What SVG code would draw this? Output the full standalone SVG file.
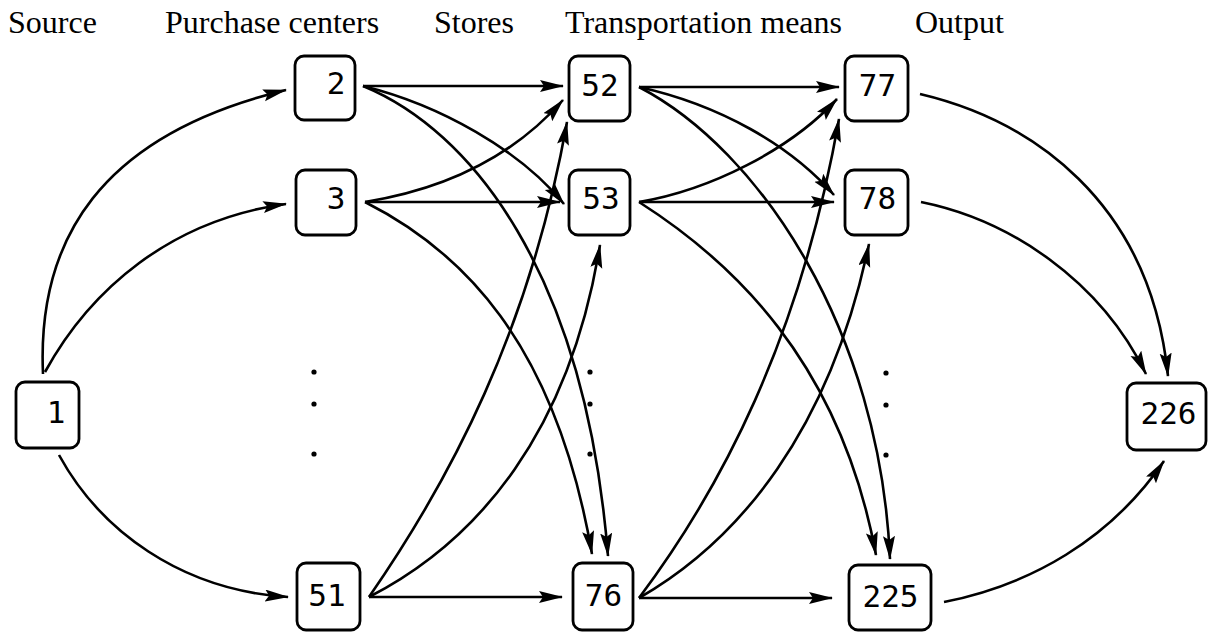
<svg xmlns="http://www.w3.org/2000/svg" width="1208" height="632" viewBox="0 0 1208 632">
<style>
.hdr{font-family:"Liberation Serif","Times New Roman",serif;font-size:32px;fill:#000}
.box{fill:#fff;stroke:#000;stroke-width:2.8}
.lbl{font-family:"DejaVu Sans Mono","Liberation Mono",monospace;font-size:31px;fill:#000;text-anchor:middle}
.e{fill:none;stroke:#000;stroke-width:2.6;marker-end:url(#ah)}
.dot{fill:#000}
</style>
<defs>
<marker id="ah" markerUnits="userSpaceOnUse" markerWidth="26" markerHeight="14" refX="23" refY="6" orient="auto">
<path d="M0,0 L24,6 L0,12 L4,6 z" fill="#000"/>
</marker>
</defs>
<rect width="1208" height="632" fill="#fff"/>
<g id="headers">
<text class="hdr" x="8" y="33">Source</text>
<text class="hdr" x="165" y="33">Purchase centers</text>
<text class="hdr" x="434" y="33">Stores</text>
<text class="hdr" x="565" y="33">Transportation means</text>
<text class="hdr" x="915" y="33">Output</text>
</g>
<g id="connectors">
<path class="e" d="M43 374 C37 240,100 135,286 90"/>
<path class="e" d="M45 372 C90 290,170 220,286 204"/>
<path class="e" d="M59 455 C100 530,180 590,288 597"/>
<path class="e" d="M363 86 L563 86"/>
<path class="e" d="M363 86 C440 105,520 150,564 204"/>
<path class="e" d="M363 86 C470 130,585 270,608 556"/>
<path class="e" d="M365 202 C440 190,510 160,563 100"/>
<path class="e" d="M365 202 L560 202"/>
<path class="e" d="M365 202 C460 250,555 340,592 554"/>
<path class="e" d="M369 597 C450 480,530 330,567 122"/>
<path class="e" d="M369 597 C480 540,570 430,600 245"/>
<path class="e" d="M369 597 L562 597"/>
<path class="e" d="M639 87 L839 87"/>
<path class="e" d="M639 87 C720 105,790 145,834 195"/>
<path class="e" d="M639 87 C760 150,880 330,890 559"/>
<path class="e" d="M639 202 C710 190,790 150,837 99"/>
<path class="e" d="M639 202 L834 202"/>
<path class="e" d="M639 202 C730 260,840 360,876 555"/>
<path class="e" d="M639 598 C720 490,800 340,839 119"/>
<path class="e" d="M639 598 C740 540,830 430,869 244"/>
<path class="e" d="M639 598 L832 598"/>
<path class="e" d="M920 94 C1030 120,1150 200,1168 376"/>
<path class="e" d="M921 202 C1010 220,1100 280,1146 374"/>
<path class="e" d="M944 602 C1030 585,1110 540,1164 461"/>
</g>
<g id="dots">
<circle class="dot" cx="314" cy="372" r="2.6"/>
<circle class="dot" cx="314" cy="404" r="2.6"/>
<circle class="dot" cx="314" cy="454" r="2.6"/>
<circle class="dot" cx="590" cy="372" r="2.6"/>
<circle class="dot" cx="590" cy="404" r="2.6"/>
<circle class="dot" cx="590" cy="454" r="2.6"/>
<circle class="dot" cx="886" cy="373" r="2.6"/>
<circle class="dot" cx="886" cy="405" r="2.6"/>
<circle class="dot" cx="886" cy="455" r="2.6"/>
</g>
<g id="n1"><rect class="box" x="16" y="382" width="63" height="66" rx="9"/><text class="lbl" x="56" y="423">1</text></g>
<g id="n2"><rect class="box" x="295" y="56" width="60" height="64" rx="9"/><text class="lbl" x="336" y="94">2</text></g>
<g id="n3"><rect class="box" x="296" y="170" width="60" height="65" rx="9"/><text class="lbl" x="336" y="209">3</text></g>
<g id="n51"><rect class="box" x="297" y="563" width="63" height="67" rx="9"/><text class="lbl" x="327" y="606">51</text></g>
<g id="n52"><rect class="box" x="569" y="56" width="61" height="65" rx="9"/><text class="lbl" x="600" y="96">52</text></g>
<g id="n53"><rect class="box" x="569" y="170" width="61" height="65" rx="9"/><text class="lbl" x="601" y="209">53</text></g>
<g id="n76"><rect class="box" x="573" y="563" width="60" height="67" rx="9"/><text class="lbl" x="603.5" y="606">76</text></g>
<g id="n77"><rect class="box" x="845" y="56" width="63" height="65" rx="9"/><text class="lbl" x="877.5" y="96">77</text></g>
<g id="n78"><rect class="box" x="845" y="170" width="63" height="65" rx="9"/><text class="lbl" x="877.5" y="209">78</text></g>
<g id="n225"><rect class="box" x="849" y="565" width="82" height="65" rx="9"/><text class="lbl" x="890.5" y="607">225</text></g>
<g id="n226"><rect class="box" x="1127" y="383" width="79" height="67" rx="9"/><text class="lbl" x="1168.5" y="424">226</text></g>
</svg>
